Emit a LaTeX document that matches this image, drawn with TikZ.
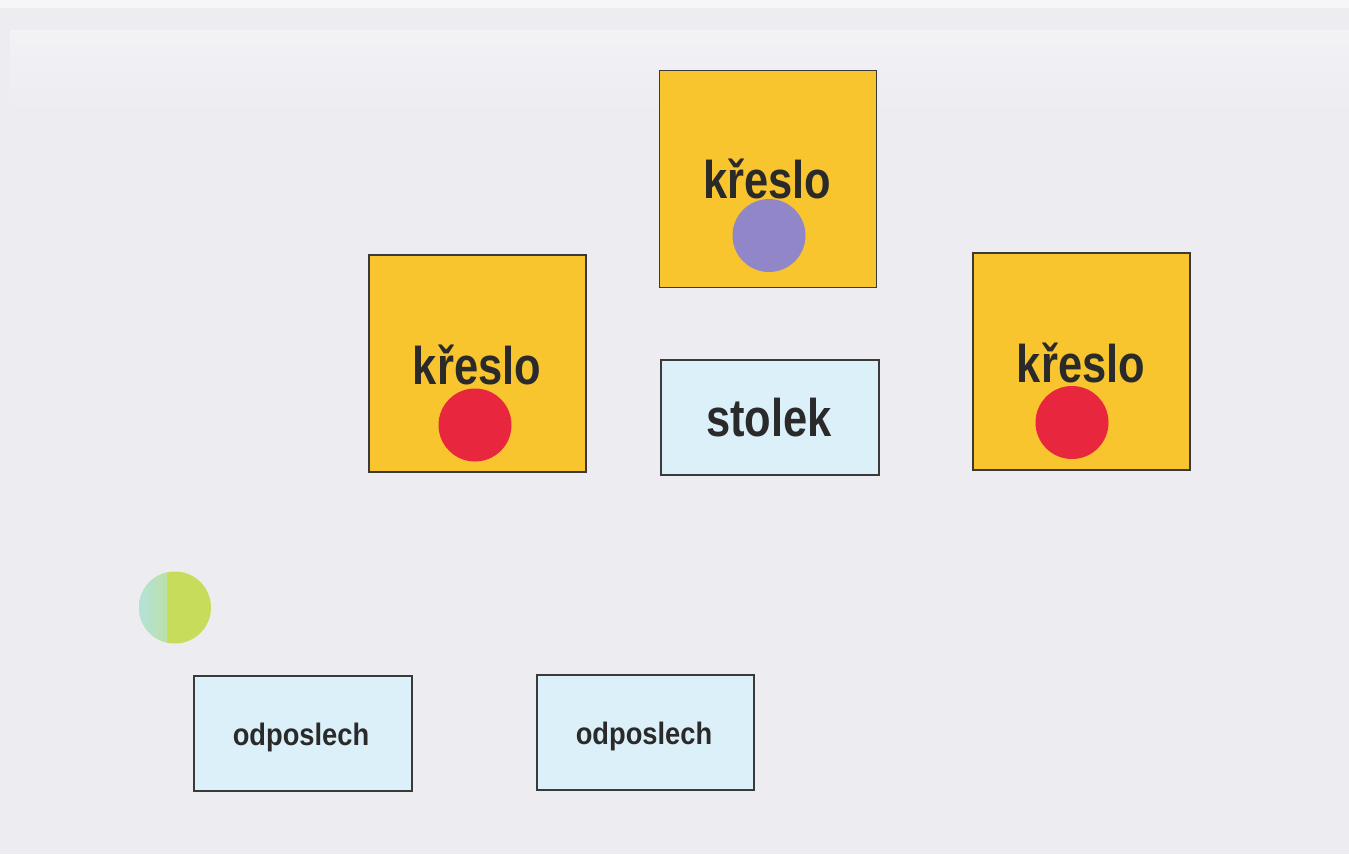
\documentclass[tikz,border=0pt]{standalone}
\usepackage{fontspec}
\newfontfamily\bignarrow[FakeStretch=0.82]{Liberation Sans}
\newfontfamily\smallnarrow[FakeStretch=0.88]{Liberation Sans}
\definecolor{paper}{HTML}{ECECF1}
\definecolor{chairfill}{HTML}{F9C52F}
\definecolor{tablefill}{HTML}{DCF0FA}
\definecolor{edge}{HTML}{3A3A3A}
\definecolor{ink}{HTML}{2A2A2A}
\definecolor{violet}{HTML}{9186C8}
\definecolor{redspot}{HTML}{E8263E}
\definecolor{greenspot}{HTML}{C8DC5C}
\definecolor{cyanspot}{HTML}{B4E2DA}
\tikzset{
  chair/.style={draw=edge, line width=1.1pt, fill=chairfill, minimum width=217pt, minimum height=217pt, inner sep=0pt},
  bluebox/.style={draw=edge, line width=1.1pt, fill=tablefill, minimum width=217pt, minimum height=115pt, inner sep=0pt},
  bigtext/.style={text=ink, font=\bignarrow\bfseries\fontsize{53}{60}\selectfont, anchor=base, inner sep=0pt},
  smalltext/.style={text=ink, font=\smallnarrow\bfseries\fontsize{31}{36}\selectfont, anchor=base, inner sep=0pt},
  spot/.style={circle, minimum size=73pt, inner sep=0pt, draw=none}
}
\begin{document}
\begin{tikzpicture}[x=1pt,y=-1pt]
\fill[paper] (0,0) rectangle (1349,854);
\useasboundingbox (0,0) rectangle (1349,854);
\fill[white!50!paper] (0,0) rectangle (1349,8);
\shade[top color=white!35!paper, bottom color=paper] (10,30) rectangle (1349,115);

% chairs
\node[chair] (chairTop) at (768,179) {};
\node[chair] (chairLeft) at (477.5,363.5) {};
\node[chair] (chairRight) at (1081.5,361.5) {};
\node[bigtext] (tTop) at (767.5,198) {křeslo};
\node[bigtext] (tLeft) at (477,384) {křeslo};
\node[bigtext] (tRight) at (1081,382) {křeslo};
\node[spot, fill=violet] (pTop) at (769,235.5) {};
\node[spot, fill=redspot] (pLeft) at (475,425) {};
\node[spot, fill=redspot] (pRight) at (1072,422.5) {};

% table
\node[bluebox, minimum width=218pt] (table) at (770,417.5) {};
\node[bigtext] (tTable) at (769,436) {stolek};

% listeners
\node[bluebox, minimum width=218pt] (lis1) at (303,733.5) {};
\node[bluebox] (lis2) at (645.5,732.5) {};
\node[smalltext] (tLis1) at (301,745) {odposlech};
\node[smalltext] (tLis2) at (644,744) {odposlech};

% green spot
\node[spot, fill=greenspot, minimum size=72pt,
  path picture={\shade[left color=cyanspot, right color=greenspot] (path picture bounding box.north west) rectangle ([xshift=28pt]path picture bounding box.south west);}
] (pGreen) at (175,607.5) {};
\end{tikzpicture}
\end{document}
